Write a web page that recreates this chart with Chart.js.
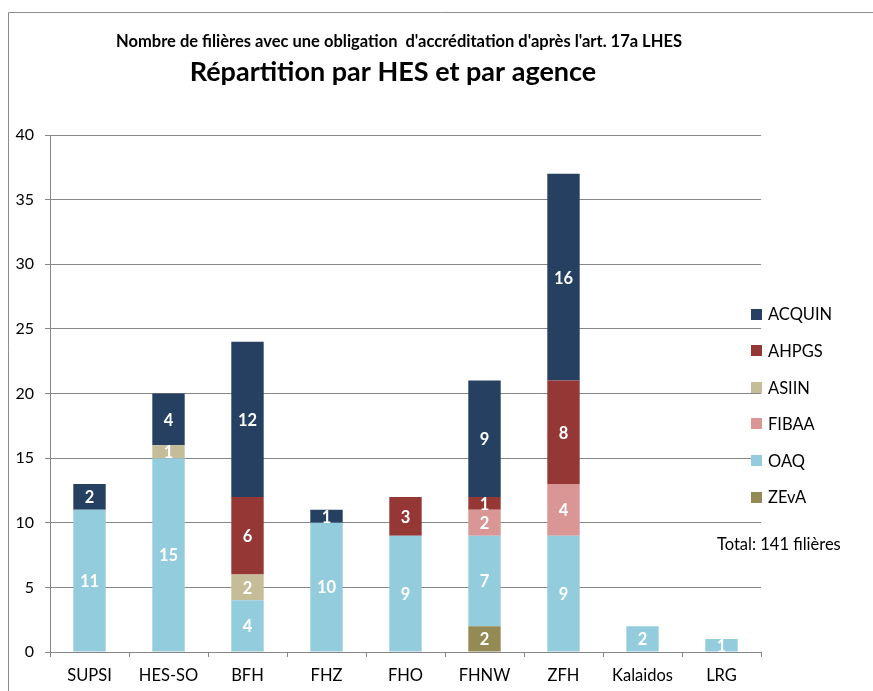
<!DOCTYPE html>
<html><head><meta charset="utf-8">
<script src="https://cdn.jsdelivr.net/npm/chart.js@4"></script>
<style>html,body{margin:0;padding:0;background:#fff;} #wrap{width:873px;height:691px;position:relative;}</style>
</head><body><div id="wrap"><canvas id="c" width="873" height="691"></canvas></div>
<script>
const categories = ['SUPSI','HES-SO','BFH','FHZ','FHO','FHNW','ZFH','Kalaidos','LRG'];
// stacked bottom -> top
const zeva   = [null,null,null,null,null,2,null,null,null];
const oaq    = [11,15,4,10,9,7,9,2,1];
const fibaa  = [null,null,null,null,null,2,4,null,null];
const asiin  = [null,1,2,null,null,null,null,null,null];
const ahpgs  = [null,null,6,null,3,1,8,null,null];
const acquin = [2,4,12,1,null,9,16,null,null];
const seriesNames = ['ZEvA','OAQ','FIBAA','ASIIN','AHPGS','ACQUIN'];
const seriesColors = ['#948A54','#93CDDD','#D99694','#C4BD97','#953735','#254061'];
const yTickValues = [0,5,10,15,20,25,30,35,40];
const titleLine1 = "Nombre de filières avec une obligation  d'accréditation d'après l'art. 17a LHES";
const titleLine2 = "Répartition par HES et par agence";
const totalNote = "Total: 141 filières";

const FONT = 'Lato, "Open Sans", sans-serif';
const seriesData = [zeva, oaq, fibaa, asiin, ahpgs, acquin];

const datasets = seriesData.map((d, i) => ({
  label: seriesNames[i],
  data: d,
  backgroundColor: seriesColors[i],
  borderWidth: 0,
  categoryPercentage: 1.0,
  barPercentage: 0.41
}));

const framePlugin = {
  id: 'frame',
  beforeDraw(chart) {
    const ctx = chart.ctx;
    ctx.save();
    ctx.fillStyle = '#fff';
    ctx.fillRect(0, 0, chart.width, chart.height);
    ctx.strokeStyle = '#8c8c8c';
    ctx.lineWidth = 1;
    ctx.beginPath();
    ctx.moveTo(8.5, chart.height);
    ctx.lineTo(8.5, 12.5);
    ctx.lineTo(chart.width, 12.5);
    ctx.stroke();
    ctx.restore();
  }
};

const labelsPlugin = {
  id: 'segLabels',
  afterDatasetsDraw(chart) {
    const ctx = chart.ctx;
    ctx.save();
    ctx.fillStyle = '#fff';
    ctx.font = 'bold 16.5px ' + FONT;
    ctx.textAlign = 'center';
    ctx.textBaseline = 'middle';
    chart.data.datasets.forEach((ds, di) => {
      const meta = chart.getDatasetMeta(di);
      meta.data.forEach((el, i) => {
        const v = ds.data[i];
        if (v === null || v === undefined) return;
        ctx.fillText(String(v), el.x, (el.y + el.base) / 2 + 1);
      });
    });
    ctx.restore();
  }
};

const decorPlugin = {
  id: 'decor',
  afterDraw(chart) {
    const ctx = chart.ctx;
    ctx.save();
    ctx.fillStyle = '#000';
    ctx.textAlign = 'center';
    ctx.textBaseline = 'middle';
    ctx.font = 'bold 16.5px ' + FONT;
    ctx.fillText(titleLine1, 399, 42);
    ctx.font = 'bold 27px ' + FONT;
    ctx.fillText(titleLine2, 393, 72);

    // legend (reversed order)
    const ds = chart.data.datasets;
    ctx.textAlign = 'left';
    ctx.font = '16.5px ' + FONT;
    for (let k = 0; k < ds.length; k++) {
      const d = ds[ds.length - 1 - k];
      const cy = 314 + k * 36.6;
      ctx.fillStyle = d.backgroundColor;
      ctx.fillRect(751, Math.round(cy - 5.5), 11, 11);
      ctx.fillStyle = '#000';
      ctx.fillText(d.label, 768, cy + 1);
    }
    ctx.font = '16.5px ' + FONT;
    ctx.fillText(totalNote, 717, 545);
    ctx.restore();
  }
};

new Chart(document.getElementById('c'), {
  type: 'bar',
  data: { labels: categories, datasets },
  options: {
    responsive: false,
    animation: false,
    devicePixelRatio: 1,
    layout: { padding: { top: 135, right: 112, bottom: 0, left: 0 } },
    plugins: { legend: { display: false }, tooltip: { enabled: false }, title: { display: false } },
    scales: {
      x: {
        stacked: true,
        offset: true,
        grid: { display: true, drawOnChartArea: false, drawTicks: true, tickLength: 5, color: '#868686', offset: true },
        border: { color: '#868686' },
        ticks: { color: '#000', font: { family: FONT, size: 16.5 }, padding: 9, maxRotation: 0 },
        afterFit(s) { s.height = 39; }
      },
      y: {
        stacked: true,
        min: 0, max: 40,
        afterBuildTicks(s) { s.ticks = yTickValues.map(v => ({ value: v })); },
        grid: { color: '#868686', tickLength: 5, drawTicks: true },
        border: { color: '#868686' },
        ticks: { color: '#000', font: { family: FONT, size: 16 }, padding: 11 },
        afterFit(s) { s.width = 50; }
      }
    }
  },
  plugins: [framePlugin, labelsPlugin, decorPlugin]
});
</script>
</body></html>
